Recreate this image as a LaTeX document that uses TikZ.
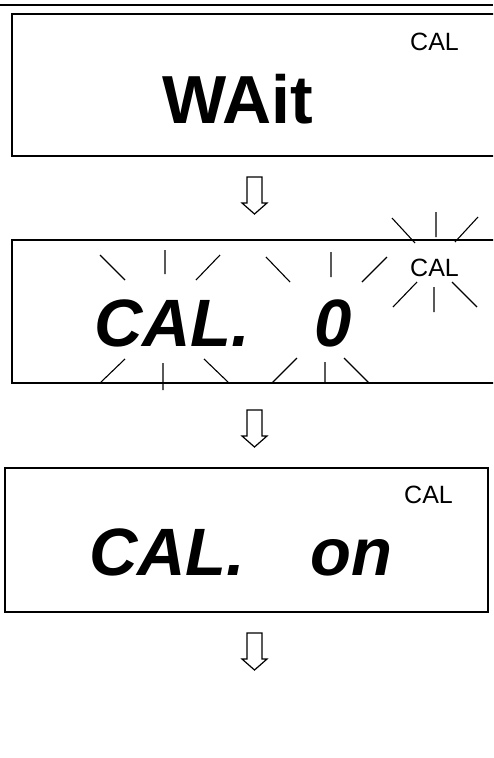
\documentclass[tikz,border=0pt]{standalone}
\usepackage{fontspec}
\setmainfont{Liberation Sans}
\tikzset{
	hollowdown/.pic={
		\draw[line width=1.2pt,line join=miter] (-7.5,0)--(7.5,0)--(7.5,26)--(12.5,26)--(0,37)--(-12.5,26)--(-7.5,26)--cycle;
	}
}
\begin{document}
\begin{tikzpicture}[x=1pt,y=-1pt,line cap=butt,
	lcd/.style={line width=1.3pt},
	ray/.style={line width=1.1pt},
	big/.style={inner sep=0pt,anchor=base west,font=\fontsize{68}{68}\selectfont\bfseries},
	bigit/.style={big,font=\fontsize{67}{67}\selectfont\bfseries\itshape},
	small/.style={inner sep=0pt,anchor=base west,font=\fontsize{25}{25}\selectfont}]
	\clip (0,0) rectangle (493,758);
	\useasboundingbox (0,0) rectangle (493,758);
	\draw[line width=2.4pt] (0,5)--(493,5);
	% first display
	\draw[lcd] (500,14)--(12,14)--(12,156)--(500,156);
	\node[big] (wait) at (162,123) {WAit};
	\node[small] (calA) at (410,50) {CAL};
	\pic at (254.5,177) {hollowdown};
	% second display, blinking
	\draw[lcd] (500,240)--(12,240)--(12,383)--(500,383);
	\node[bigit] (calzero) at (94,346) {CAL.};
	\node[bigit] (zero) at (314,346) {0};
	\node[small] (calB) at (410,276) {CAL};
	\draw[ray] (100,255)--(125,280) (165,250)--(165,274) (220,255)--(196,280)
		(125,359)--(100,383) (163,363)--(163,390) (204,359)--(229,383);
	\draw[ray] (266,257)--(290,282) (331,252)--(331,277) (387,257)--(362,282)
		(297,358)--(272,383) (325,362)--(325,383) (344,358)--(369,383);
	\draw[ray] (392,218)--(415,243) (436,212)--(436,237) (478,217)--(455,242)
		(417,282)--(393,307) (434,287)--(434,312) (452,282)--(477,307);
	\pic at (254.5,410) {hollowdown};
	% third display
	\draw[lcd] (5,468) rectangle (488,612);
	\node[bigit] (calon) at (89,575) {CAL.};
	\node[bigit] (on) at (310,575) {on};
	\node[small] (calC) at (404,503) {CAL};
	\pic at (254.5,633) {hollowdown};
\end{tikzpicture}
\end{document}
